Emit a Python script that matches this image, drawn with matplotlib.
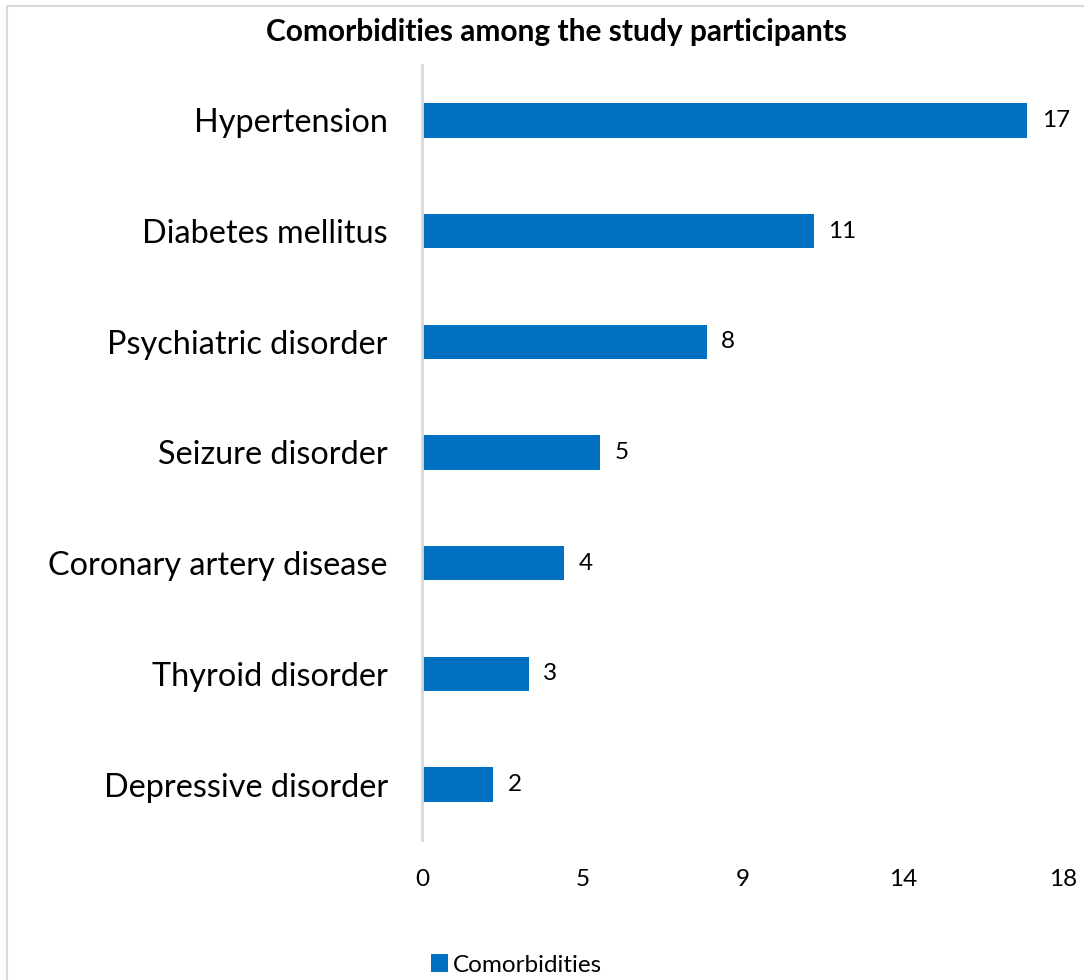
import matplotlib
matplotlib.use("Agg")
import matplotlib.pyplot as plt
from matplotlib.patches import Rectangle

plt.rcParams['font.family'] = ['Lato', 'DejaVu Sans']

categories = ["Hypertension", "Diabetes mellitus", "Psychiatric disorder",
              "Seizure disorder", "Coronary artery disease", "Thyroid disorder",
              "Depressive disorder"]
values = [17, 11, 8, 5, 4, 3, 2]
tick_pos = [0, 4.5, 9, 13.5, 18]
tick_labels = ["0", "5", "9", "14", "18"]
series_name = "Comorbidities"

bar_color = "#0070C0"
W, H = 1084, 980

fig = plt.figure(figsize=(W / 100, H / 100), dpi=100)
# chart border
fig.patches.append(Rectangle((7 / W, -0.1), 1.2, 1 - 6 / H + 0.1, transform=fig.transFigure,
                             fill=False, edgecolor="#D9D9D9", linewidth=1.5))

ax = fig.add_axes((422 / W, 1 - 840 / H, (1063 - 422) / W, (840 - 65) / H))
ypos = list(range(len(categories)))[::-1]
bars = ax.barh(ypos, values, height=0.31, color=bar_color, label=series_name)
ax.set_xlim(0, 18)
ax.set_ylim(-0.5, len(categories) - 0.5)
ax.set_yticks(ypos)
ax.set_yticklabels(categories, fontsize=23.3)
ax.set_xticks(tick_pos)
ax.set_xticklabels(tick_labels, fontsize=17.5)
ax.tick_params(axis='both', length=0)
ax.tick_params(axis='y', pad=24.5)
ax.tick_params(axis='x', pad=21)
for s in ['top', 'right', 'bottom']:
    ax.spines[s].set_visible(False)
ax.spines['left'].set_color("#D9D9D9")
ax.spines['left'].set_linewidth(2)

for y, v in zip(ypos, values):
    ax.text(v + 0.4, y, str(v), va='center', ha='left', fontsize=17.5)

fig.text(557 / W, 1 - 32 / H, "Comorbidities among the study participants",
         ha='center', va='center', fontsize=21.5, fontweight='bold')

fig.legend(handles=[bars], labels=[series_name], loc='center',
           bbox_to_anchor=(516 / W, 1 - 965 / H), frameon=False, fontsize=17.5,
           handlelength=0.7, handleheight=0.7, handletextpad=0.2)

fig.savefig("out.png", dpi=100)
